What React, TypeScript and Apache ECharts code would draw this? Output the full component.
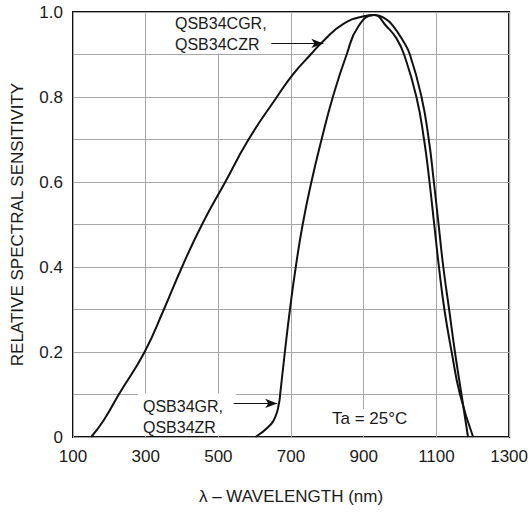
import React, { useEffect, useRef } from "react";
import * as echarts from "echarts";

// Wavelength (nm) / relative sensitivity pairs
const seriesWideName = "QSB34CGR, QSB34CZR";
const seriesWide: [number, number][] = [
  [150, 0], [185, 0.04], [226, 0.1], [297, 0.2], [350, 0.3], [400, 0.4],
  [455, 0.5], [519, 0.6], [583, 0.7], [661, 0.8], [707, 0.855], [754, 0.9],
  [789, 0.932], [844, 0.972], [900, 0.99], [930, 0.993], [960, 0.984],
  [981, 0.967], [1007, 0.934], [1027, 0.9], [1059, 0.8], [1079, 0.7],
  [1093, 0.6], [1106, 0.5], [1119, 0.4], [1135, 0.3], [1151, 0.2],
  [1169, 0.1], [1187, 0],
];

const seriesNarrowName = "QSB34GR, QSB34ZR";
const seriesNarrow: [number, number][] = [
  [602, 0], [638, 0.024], [657, 0.048], [667, 0.08], [670, 0.1], [683, 0.2],
  [697, 0.3], [713, 0.4], [732, 0.5], [756, 0.6], [784, 0.7],
  [815, 0.8], [853, 0.9], [885, 0.966], [928, 0.993], [963, 0.966],
  [990, 0.938], [1011, 0.9], [1045, 0.8], [1066, 0.7], [1081, 0.6],
  [1094, 0.5], [1107, 0.4], [1122, 0.3], [1142, 0.2], [1165, 0.1],
  [1201, 0],
];

const xTicks = [100, 300, 500, 700, 900, 1100, 1300];
const yTickLabels = ["0", "0.2", "0.4", "0.6", "0.8", "1.0"];

// annotation arrows (data coordinates: start, tip)
const arrowWide: [number, number][] = [[646, 0.926], [789, 0.926]];
const arrowNarrow: [number, number][] = [[542, 0.079], [662, 0.079]];

const FONT = "'Liberation Sans', Arial, Helvetica, sans-serif";
const TXT = "#1a1a1a";

export default function App() {
  const ref = useRef<HTMLDivElement>(null);
  useEffect(() => {
    if (!ref.current) return;
    const chart = echarts.init(ref.current, undefined, { renderer: "svg" });
    const arrowLine = (pts: [number, number][]) => ({
      silent: true,
      symbol: ["none", "arrow"],
      symbolSize: [7, 12],
      label: { show: false },
      lineStyle: { color: "#111", width: 1, type: "solid" },
      data: [[{ coord: pts[0] }, { coord: pts[1] }]],
    });
    chart.setOption({
      animation: false,
      backgroundColor: "#fff",
      grid: {
        left: 73,
        right: 20,
        top: 12,
        bottom: 76,
        show: true,
        borderColor: "#111",
        borderWidth: 2,
        backgroundColor: "transparent",
      },
      xAxis: {
        type: "value",
        min: xTicks[0],
        max: xTicks[xTicks.length - 1],
        interval: 200,
        name: "λ – WAVELENGTH (nm)",
        nameLocation: "middle",
        nameGap: 51,
        nameTextStyle: { fontFamily: FONT, fontSize: 17, color: TXT },
        axisLine: { show: false },
        axisTick: { show: false },
        axisLabel: {
          fontFamily: FONT,
          fontSize: 17,
          color: TXT,
          margin: 11,
          formatter: (v: number) => String(v),
        },
        splitLine: { show: true, lineStyle: { color: "#a6a6a6", width: 1 } },
      },
      yAxis: {
        type: "value",
        min: 0,
        max: 1,
        interval: 0.1,
        name: "RELATIVE SPECTRAL SENSITIVITY",
        nameLocation: "middle",
        nameGap: 47,
        nameTextStyle: { fontFamily: FONT, fontSize: 17, color: TXT },
        axisLine: { show: false },
        axisTick: { show: false },
        axisLabel: {
          fontFamily: FONT,
          fontSize: 17,
          color: TXT,
          margin: 10,
          formatter: (v: number) => {
            const k = Math.round(v * 10);
            return k % 2 === 0 ? yTickLabels[k / 2] : "";
          },
        },
        splitLine: { show: true, lineStyle: { color: "#a6a6a6", width: 1 } },
      },
      series: [
        {
          name: seriesWideName,
          type: "line",
          data: seriesWide,
          smooth: 0.5,
          showSymbol: false,
          symbol: "none",
          lineStyle: { color: "#111", width: 2 },
          z: 3,
          markLine: arrowLine(arrowWide),
        },
        {
          name: seriesNarrowName,
          type: "line",
          data: seriesNarrow,
          smooth: 0.5,
          showSymbol: false,
          symbol: "none",
          lineStyle: { color: "#111", width: 2 },
          z: 3,
          markLine: arrowLine(arrowNarrow),
        },
      ],
      graphic: [
        { type: "rect", z: 1, shape: { x: 168, y: 13.5, width: 108, height: 40 }, style: { fill: "#fff" } },
        { type: "rect", z: 1, shape: { x: 138, y: 393.5, width: 98, height: 42 }, style: { fill: "#fff" } },
        { type: "rect", z: 1, shape: { x: 328, y: 409, width: 86, height: 26.5 }, style: { fill: "#fff" } },
        {
          type: "text",
          z: 5,
          x: 175,
          y: 12.5,
          style: {
            text: "QSB34CGR,\nQSB34CZR",
            fontFamily: FONT,
            fontSize: 16,
            lineHeight: 21,
            fill: TXT,
            verticalAlign: "top",
            align: "left",
          },
        },
        {
          type: "text",
          z: 5,
          x: 143,
          y: 395.5,
          style: {
            text: "QSB34GR,\nQSB34ZR",
            fontFamily: FONT,
            fontSize: 16,
            lineHeight: 21,
            fill: TXT,
            verticalAlign: "top",
            align: "left",
          },
        },
        {
          type: "text",
          z: 5,
          x: 332,
          y: 418.5,
          style: {
            text: "Ta = 25°C",
            fontFamily: FONT,
            fontSize: 17,
            fill: TXT,
            verticalAlign: "middle",
            align: "left",
          },
        },
      ],
    });
    return () => chart.dispose();
  }, []);
  return (
    <div
      ref={ref}
      style={{ position: "fixed", left: 0, top: 0, width: 531, height: 513, background: "#fff" }}
    />
  );
}
